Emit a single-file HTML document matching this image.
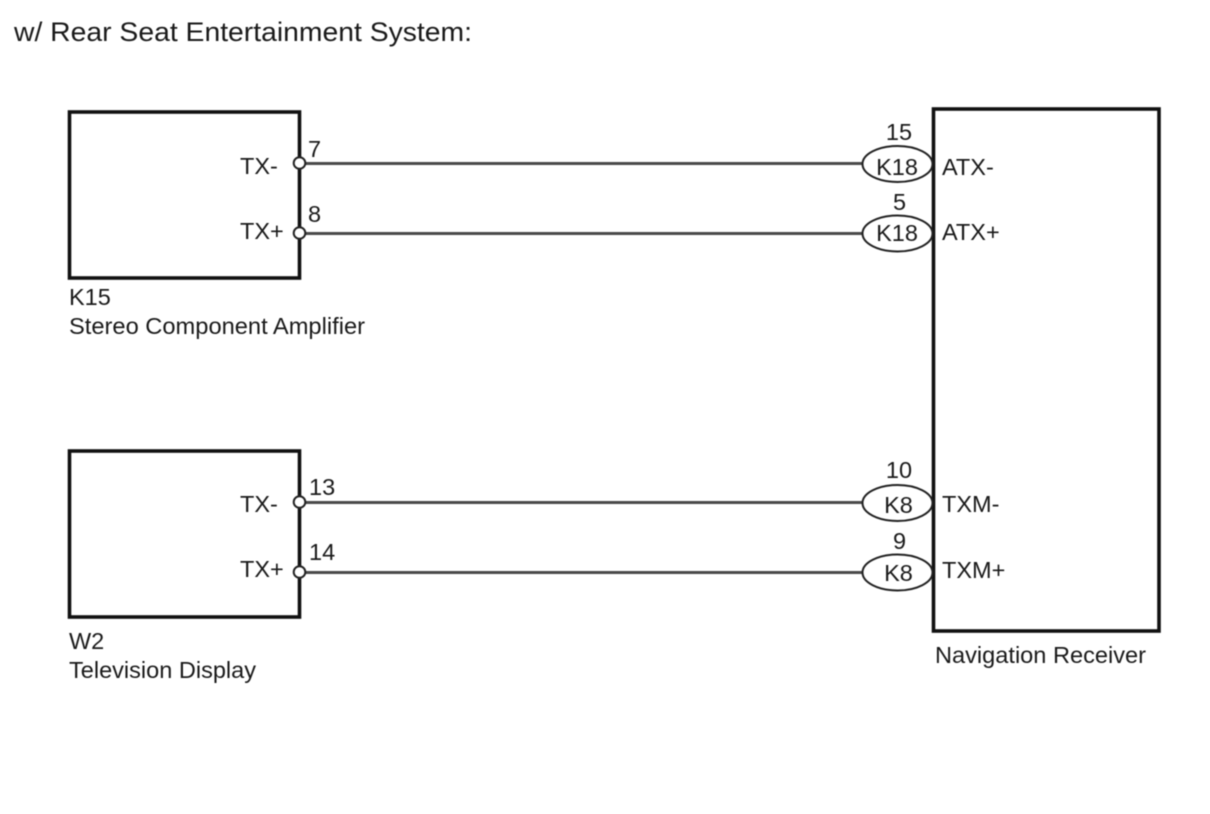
<!DOCTYPE html>
<html>
<head>
<meta charset="utf-8">
<style>
html,body{margin:0;padding:0;background:#fff;width:1210px;height:814px;overflow:hidden}
svg{display:block;filter:blur(.45px)}
text{font-family:"Liberation Sans",Arial,sans-serif;fill:#1a1a1a;font-size:23.5px}
</style>
</head>
<body>
<svg width="1210" height="814" viewBox="0 0 1210 814" xmlns="http://www.w3.org/2000/svg">
<rect width="1210" height="814" fill="#fff"/>
<text x="14" y="41" style="font-size:27px" textLength="458" lengthAdjust="spacingAndGlyphs">w/ Rear Seat Entertainment System:</text>

<g fill="none" stroke="#111" stroke-width="3.6">
<rect x="69.5" y="112" width="230" height="166"/>
<rect x="69.500" y="451" width="230" height="166"/>
<rect x="933.5" y="109" width="225.5" height="522"/>
</g>

<g stroke="#4a4a4a" stroke-width="3">
<line x1="304" y1="163.5" x2="863" y2="163.500"/>
<line x1="304" y1="233.5" x2="863" y2="233.500"/>
<line x1="304" y1="502.5" x2="863" y2="502.500"/>
<line x1="304" y1="572.5" x2="863" y2="572.500"/>
</g>

<g fill="#fff" stroke="#222" stroke-width="2">
<circle cx="299.5" cy="163" r="5.8"/>
<circle cx="299.5" cy="233" r="5.8"/>
<circle cx="299.5" cy="502" r="5.8"/>
<circle cx="299.5" cy="572" r="5.8"/>
<ellipse cx="897.5" cy="164" rx="35" ry="18"/>
<ellipse cx="897.5" cy="233.500" rx="35" ry="18"/>
<ellipse cx="897.5" cy="503" rx="35" ry="18"/>
<ellipse cx="897.5" cy="572.500" rx="35" ry="18"/>
</g>

<text x="240" y="174">TX-</text>
<text x="240" y="239">TX+</text>
<text x="240" y="512">TX-</text>
<text x="240" y="577">TX+</text>

<text x="308" y="157">7</text>
<text x="308" y="222">8</text>
<text x="309" y="495">13</text>
<text x="309" y="560">14</text>

<text x="69" y="305">K15</text>
<text x="69" y="334" textLength="296" lengthAdjust="spacingAndGlyphs">Stereo Component Amplifier</text>
<text x="69" y="649">W2</text>
<text x="69" y="678" textLength="187" lengthAdjust="spacingAndGlyphs">Television Display</text>
<text x="935" y="663" textLength="211" lengthAdjust="spacingAndGlyphs">Navigation Receiver</text>

<g text-anchor="middle">
<text x="899" y="140">15</text>
<text x="899.500" y="210">5</text>
<text x="899" y="478">10</text>
<text x="899.500" y="549">9</text>
<text x="897" y="175">K18</text>
<text x="897" y="241">K18</text>
<text x="898.500" y="513">K8</text>
<text x="898.500" y="581">K8</text>
</g>

<text x="942" y="175">ATX-</text>
<text x="942" y="240">ATX+</text>
<text x="942" y="512">TXM-</text>
<text x="942" y="578">TXM+</text>
</svg>
</body>
</html>
